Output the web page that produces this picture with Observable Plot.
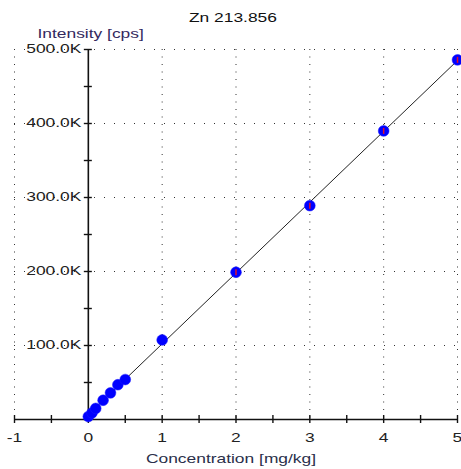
<!DOCTYPE html>
<html>
<head>
<meta charset="utf-8">
<script src="https://cdn.jsdelivr.net/npm/d3@7"></script>
<script src="https://cdn.jsdelivr.net/npm/@observablehq/plot@0.6"></script>
<style>
  html, body { margin: 0; padding: 0; background: #fff; }
  svg { display: block; }
</style>
</head>
<body>
<div id="chart"></div>
<script>
// ---- data ----
const conc = [0, 0.05, 0.1, 0.2, 0.3, 0.4, 0.5, 1, 2, 3, 4, 5];
const intensity = [4000, 9000, 15000, 26000, 36000, 47000, 54000, 107500, 199000, 289000, 390000, 486000];
const xTickValues = [-1, 0, 1, 2, 3, 4, 5];
const xTickLabels = ["-1", "0", "1", "2", "3", "4", "5"];
const yTickValues = [100000, 200000, 300000, 400000, 500000];
const yTickLabels = ["100.0K", "200.0K", "300.0K", "400.0K", "500.0K"];
const xMinorTicks = [-1, -0.5, 0, 0.5, 1, 1.5, 2, 2.5, 3, 3.5, 4, 4.5, 5];
const yMinorTicks = [0, 50000, 100000, 150000, 200000, 250000, 300000, 350000, 400000, 450000, 500000];
const xGrid = [-1, 1, 2, 3, 4, 5];
const yGrid = [100000, 200000, 300000, 400000, 500000];
const titleText = "Zn 213.856";
const yLabelText = "Intensity [cps]";
const xLabelText = "Concentration [mg/kg]";

const points = conc.map((c, i) => ({x: c, y: intensity[i]}));
const xTicks = xTickValues.map((v, i) => ({v, t: xTickLabels[i]}));
const yTicks = yTickValues.map((v, i) => ({v, t: yTickLabels[i]}));

const vbar = {draw(ctx, size) { ctx.moveTo(0, -3); ctx.lineTo(0, 3); }};
const FONT = "Liberation Sans, Arial, sans-serif";

const chart = Plot.plot({
  width: 461,
  height: 469,
  marginLeft: 14,
  marginRight: 4,
  marginTop: 49,
  marginBottom: 50,
  style: {fontFamily: FONT, fontSize: "12px", background: "#fff", color: "#222"},
  x: {domain: [-1, 5], axis: null},
  y: {domain: [0, 500000], axis: null},
  marks: [
    Plot.gridX(xGrid, {stroke: "#333", strokeOpacity: 1, strokeDasharray: "1,6.5"}),
    Plot.gridY(yGrid, {stroke: "#333", strokeOpacity: 1, strokeDasharray: "1,9"}),
    Plot.ruleY([0], {x1: -1, x2: 5, stroke: "#111", strokeWidth: 1.6}),
    Plot.ruleX([0], {y1: 0, y2: 500000, stroke: "#111", strokeWidth: 1.6}),
    Plot.ruleY(yMinorTicks, {y: d => d, x1: 0, x2: 0, insetLeft: -4, insetRight: -4, stroke: "#111", strokeWidth: 1.4}),
    Plot.ruleX(xMinorTicks, {x: d => d, y1: 0, y2: 0, insetTop: -4, insetBottom: -4, stroke: "#111", strokeWidth: 1.4}),
    Plot.linearRegressionY(points, {x: "x", y: "y", ci: 0, stroke: "#222", strokeWidth: 1}),
    Plot.dot(points, {x: "x", y: "y", r: 5.4, fill: "#0000ff", stroke: "#1a1aff", strokeWidth: 0.5}),
    Plot.dot(points.filter(d => d.x >= 2), {x: "x", y: "y", symbol: vbar, fill: "none", stroke: "#e0102a", strokeWidth: 1.5}),
    Plot.text(yTicks, {x: () => 0, y: "v", text: "t", textAnchor: "end", dx: -7, fill: "#222", fontSize: 12}),
    Plot.text(xTicks, {x: "v", y: () => 0, text: "t", dy: 19, fill: "#222", fontSize: 12}),
    Plot.text([titleText], {frameAnchor: "top", dx: -3, dy: -36, fill: "#111", fontSize: 12}),
    Plot.text([yLabelText], {frameAnchor: "top-left", textAnchor: "start", dx: 23, dy: -20, fill: "#33295e", fontSize: 12}),
    Plot.text([xLabelText], {frameAnchor: "bottom", dx: -5, dy: 43, fill: "#2a2f4a", fontSize: 12})
  ]
});

document.getElementById("chart").appendChild(chart);

// stretch glyphs horizontally (about each text's anchor) like the reference rendering
chart.querySelectorAll("text").forEach(t => {
  let b;
  try { b = t.getBBox(); } catch (e) { return; }
  if (!b || !isFinite(b.x) || !isFinite(b.width)) return;
  const anchor = t.getAttribute("text-anchor") || getComputedStyle(t).textAnchor || "start";
  const ax = anchor === "end" ? b.x + b.width : anchor === "middle" ? b.x + b.width / 2 : b.x;
  const tr = t.getAttribute("transform") || "";
  t.setAttribute("transform", `${tr} translate(${ax},0) scale(1.45,1) translate(${-ax},0)`.trim());
});
</script>
</body>
</html>
